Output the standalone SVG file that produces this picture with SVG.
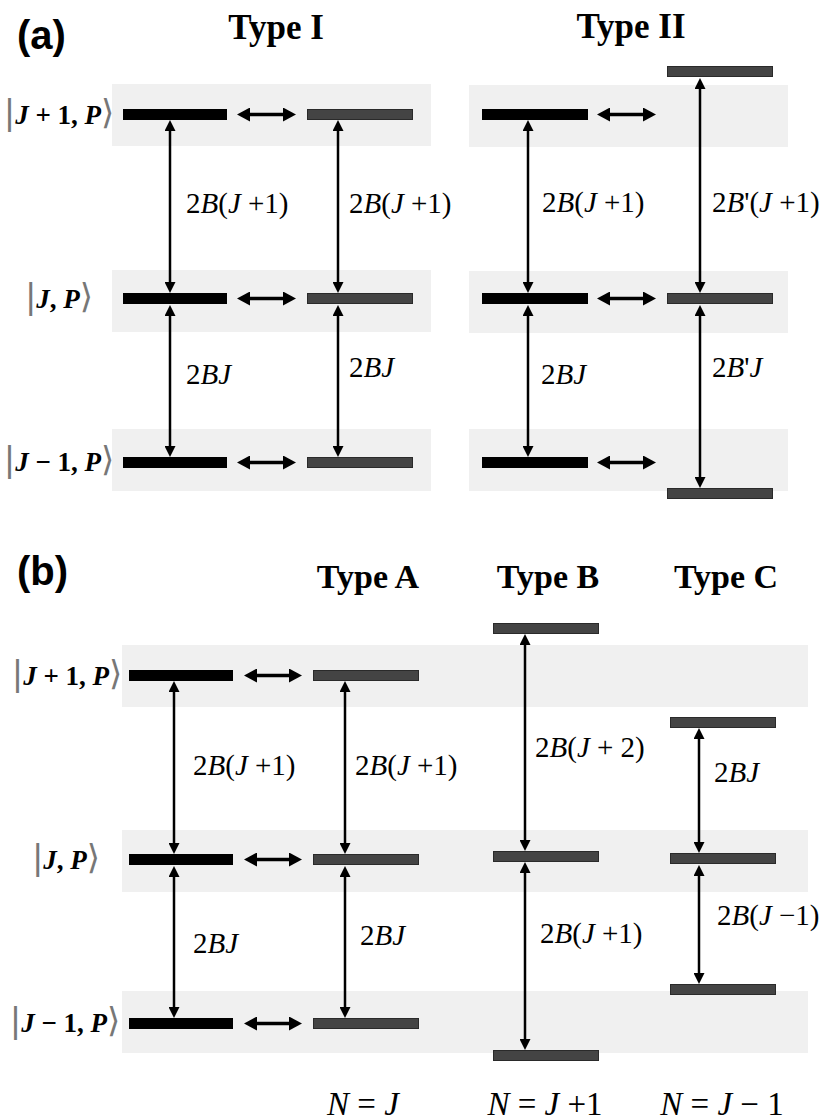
<svg xmlns="http://www.w3.org/2000/svg" width="828" height="1120" viewBox="0 0 828 1120">
<style>
.band{fill:#f0f0f0}
.bk{fill:#000}
.gr{fill:#444;stroke:#2a2a2a;stroke-width:1}
.va{stroke:#000;stroke-width:2.5;fill:none;marker-start:url(#hv);marker-end:url(#hv)}
.ha{stroke:#000;stroke-width:3.5;fill:none;marker-start:url(#hh);marker-end:url(#hh)}
.lab{font-family:"Liberation Serif","Times New Roman",serif;font-size:29px;fill:#000}
.i{font-style:italic}
.ttl{font-family:"Liberation Serif","Times New Roman",serif;font-size:35px;font-weight:bold;fill:#000;text-anchor:middle}
.pl{font-family:"Liberation Sans",Arial,sans-serif;font-size:40px;font-weight:bold;fill:#000}
.ket{font-family:"Liberation Serif","Times New Roman",serif;font-size:27px;font-weight:bold;fill:#000;text-anchor:middle}
.d{font-weight:normal;fill:#777;font-size:34px;font-family:"DejaVu Sans",sans-serif}
.nl{font-family:"Liberation Serif","Times New Roman",serif;font-size:33px;fill:#000;text-anchor:middle}
</style>
<defs>
<marker id="hv" markerUnits="userSpaceOnUse" markerWidth="11" markerHeight="11" refX="0" refY="5.5" orient="auto-start-reverse" viewBox="0 0 11 11"><path d="M0,0 L11,5.5 L0,11 Z" fill="#000"/></marker>
<marker id="hh" markerUnits="userSpaceOnUse" markerWidth="13" markerHeight="14" refX="0" refY="7" orient="auto-start-reverse" viewBox="0 0 13 14"><path d="M0,0 L13,7 L0,14 Z" fill="#000"/></marker>
</defs>
<rect width="828" height="1120" fill="#fff"/>

<g id="bands">
<rect class="band" x="112" y="84" width="319" height="62"/>
<rect class="band" x="112" y="270" width="319" height="62"/>
<rect class="band" x="112" y="429" width="319" height="62"/>
<rect class="band" x="469" y="85" width="319" height="62"/>
<rect class="band" x="469" y="271" width="319" height="62"/>
<rect class="band" x="469" y="429" width="319" height="62"/>
<rect class="band" x="122" y="645" width="686" height="62"/>
<rect class="band" x="122" y="830" width="686" height="62"/>
<rect class="band" x="122" y="991" width="686" height="62"/>
</g>

<g id="titles">
<text class="pl" x="17" y="49">(a)</text>
<text class="ttl" x="276" y="39">Type I</text>
<text class="ttl" x="631" y="38">Type II</text>
<text class="pl" x="17" y="585">(b)</text>
<text class="ttl" x="368" y="588" style="font-size:34px">Type A</text>
<text class="ttl" x="548" y="588" style="font-size:34px">Type B</text>
<text class="ttl" x="726" y="588" style="font-size:34px">Type C</text>
</g>

<g id="kets">
<text class="ket" x="59" y="124"><tspan class="d">|</tspan><tspan class="i">J</tspan> + 1, <tspan class="i">P</tspan><tspan class="d">⟩</tspan></text>
<text class="ket" x="59" y="308"><tspan class="d">|</tspan><tspan class="i">J</tspan>, <tspan class="i">P</tspan><tspan class="d">⟩</tspan></text>
<text class="ket" x="59" y="471"><tspan class="d">|</tspan><tspan class="i">J</tspan> − 1, <tspan class="i">P</tspan><tspan class="d">⟩</tspan></text>
<text class="ket" x="67" y="685"><tspan class="d">|</tspan><tspan class="i">J</tspan> + 1, <tspan class="i">P</tspan><tspan class="d">⟩</tspan></text>
<text class="ket" x="66" y="869"><tspan class="d">|</tspan><tspan class="i">J</tspan>, <tspan class="i">P</tspan><tspan class="d">⟩</tspan></text>
<text class="ket" x="65" y="1032"><tspan class="d">|</tspan><tspan class="i">J</tspan> − 1, <tspan class="i">P</tspan><tspan class="d">⟩</tspan></text>
</g>

<g id="typeI">
<rect class="bk" x="123" y="109" width="104" height="11"/>
<rect class="bk" x="123" y="293" width="104" height="11"/>
<rect class="bk" x="123" y="457" width="104" height="11"/>
<rect class="gr" x="307.5" y="109.5" width="105" height="10"/>
<rect class="gr" x="307.5" y="293.5" width="105" height="10"/>
<rect class="gr" x="307.5" y="457.5" width="105" height="10"/>
</g>

<g id="typeII">
<rect class="bk" x="482" y="109" width="106" height="11"/>
<rect class="bk" x="482" y="293" width="106" height="11"/>
<rect class="bk" x="482" y="457" width="106" height="11"/>
<rect class="gr" x="667.5" y="66.5" width="105" height="10"/>
<rect class="gr" x="667.5" y="293.5" width="105" height="10"/>
<rect class="gr" x="667.5" y="488.5" width="105" height="10"/>
</g>

<g id="typeA">
<rect class="bk" x="129" y="670" width="104" height="11"/>
<rect class="bk" x="129" y="854" width="104" height="11"/>
<rect class="bk" x="129" y="1018" width="104" height="11"/>
<rect class="gr" x="313.5" y="670.5" width="105" height="10"/>
<rect class="gr" x="313.5" y="854.5" width="105" height="10"/>
<rect class="gr" x="313.5" y="1018.5" width="105" height="10"/>
</g>

<g id="typeB">
<rect class="gr" x="493.5" y="623.5" width="105" height="10"/>
<rect class="gr" x="493.5" y="851.5" width="105" height="10"/>
<rect class="gr" x="493.5" y="1050.5" width="105" height="10"/>
</g>

<g id="typeC">
<rect class="gr" x="670.5" y="717.5" width="105" height="10"/>
<rect class="gr" x="670.5" y="853.5" width="105" height="10"/>
<rect class="gr" x="670.5" y="984.5" width="105" height="10"/>
</g>

<g id="connectors">
<line class="va" x1="170" y1="131" x2="170" y2="282"/>
<line class="va" x1="170" y1="316" x2="170" y2="446"/>
<line class="va" x1="338" y1="131" x2="338" y2="282"/>
<line class="va" x1="338" y1="316" x2="338" y2="446"/>
<line class="va" x1="528" y1="131" x2="528" y2="282"/>
<line class="va" x1="528" y1="316" x2="528" y2="446"/>
<line class="va" x1="700" y1="89" x2="700" y2="282"/>
<line class="va" x1="700" y1="316" x2="700" y2="477"/>
<line class="ha" x1="250" y1="114.5" x2="283" y2="114.5"/>
<line class="ha" x1="250" y1="298.5" x2="283" y2="298.5"/>
<line class="ha" x1="250" y1="462.5" x2="283" y2="462.5"/>
<line class="ha" x1="610" y1="114.5" x2="643" y2="114.5"/>
<line class="ha" x1="610" y1="298.5" x2="643" y2="298.5"/>
<line class="ha" x1="610" y1="462.5" x2="643" y2="462.5"/>
<line class="va" x1="174" y1="692" x2="174" y2="843"/>
<line class="va" x1="174" y1="877" x2="174" y2="1007"/>
<line class="va" x1="345" y1="692" x2="345" y2="843"/>
<line class="va" x1="345" y1="877" x2="345" y2="1007"/>
<line class="va" x1="525" y1="645" x2="525" y2="840"/>
<line class="va" x1="525" y1="873" x2="525" y2="1039"/>
<line class="va" x1="699" y1="739" x2="699" y2="842"/>
<line class="va" x1="699" y1="876" x2="699" y2="973"/>
<line class="ha" x1="257" y1="675.5" x2="289" y2="675.5"/>
<line class="ha" x1="257" y1="859.5" x2="289" y2="859.5"/>
<line class="ha" x1="257" y1="1023.5" x2="289" y2="1023.5"/>
</g>

<g id="labels">
<text class="lab" x="186" y="213">2<tspan class="i">B</tspan>(<tspan class="i">J</tspan> +1)</text>
<text class="lab" x="349" y="213">2<tspan class="i">B</tspan>(<tspan class="i">J</tspan> +1)</text>
<text class="lab" x="542" y="212">2<tspan class="i">B</tspan>(<tspan class="i">J</tspan> +1)</text>
<text class="lab" x="712" y="212">2<tspan class="i">B</tspan>'(<tspan class="i">J</tspan> +1)</text>
<text class="lab" x="186" y="384">2<tspan class="i">BJ</tspan></text>
<text class="lab" x="349" y="377">2<tspan class="i">BJ</tspan></text>
<text class="lab" x="541" y="384">2<tspan class="i">BJ</tspan></text>
<text class="lab" x="712" y="377">2<tspan class="i">B</tspan>'<tspan class="i">J</tspan></text>

<text class="lab" x="193" y="775">2<tspan class="i">B</tspan>(<tspan class="i">J</tspan> +1)</text>
<text class="lab" x="355" y="775">2<tspan class="i">B</tspan>(<tspan class="i">J</tspan> +1)</text>
<text class="lab" x="535" y="757">2<tspan class="i">B</tspan>(<tspan class="i">J</tspan> + 2)</text>
<text class="lab" x="714" y="782">2<tspan class="i">BJ</tspan></text>
<text class="lab" x="193" y="953">2<tspan class="i">BJ</tspan></text>
<text class="lab" x="360" y="945">2<tspan class="i">BJ</tspan></text>
<text class="lab" x="540" y="943">2<tspan class="i">B</tspan>(<tspan class="i">J</tspan> +1)</text>
<text class="lab" x="717" y="925">2<tspan class="i">B</tspan>(<tspan class="i">J</tspan> −1)</text>

<text class="nl" x="363" y="1115"><tspan class="i">N</tspan> = <tspan class="i">J</tspan></text>
<text class="nl" x="545" y="1115"><tspan class="i">N</tspan> = <tspan class="i">J</tspan> +1</text>
<text class="nl" x="722" y="1115"><tspan class="i">N</tspan> = <tspan class="i">J</tspan> − 1</text>
</g>
</svg>
